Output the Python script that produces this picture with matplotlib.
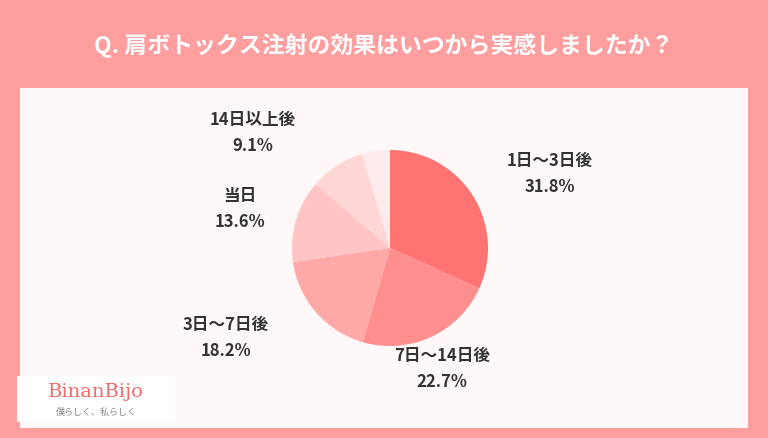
import matplotlib
matplotlib.use("Agg")
import matplotlib.pyplot as plt
from matplotlib.patches import Rectangle

plt.rcParams['font.family'] = ['Noto Sans CJK JP', 'DejaVu Sans']

labels = ["1日〜3日後", "7日〜14日後", "3日〜7日後", "当日", "14日以上後", ""]
values = [31.8, 22.7, 18.2, 13.6, 9.1, 4.6]
pct_text = ["31.8%", "22.7%", "18.2%", "13.6%", "9.1%", ""]
colors = ["#FF7373", "#FF8F8F", "#FFA8A8", "#FFC4C4", "#FFD6D6", "#FFEBEB"]
title = "Q. 肩ボトックス注射の効果はいつから実感しましたか？"

W, H = 768, 438
fig = plt.figure(figsize=(W/100, H/100), dpi=100)
fig.patch.set_facecolor("#FF9E9E")
bg = fig.add_axes([0, 0, 1, 1]); bg.set_xlim(0, W); bg.set_ylim(H, 0); bg.axis("off")
bg.add_patch(Rectangle((20, 88), 728, 340, facecolor="#FFF8F8", edgecolor="none"))
bg.text(W/2, 46, title, color="white", fontsize=16.5, fontweight="bold", ha="center", va="center")
bg.add_patch(Rectangle((17, 376), 158, 46, facecolor="white", edgecolor="none"))
bg.text(96, 392, "BinanBijo", color="#F06A6A", fontsize=14, ha="center", va="center",
        family=["DejaVu Serif"])
bg.text(96, 412, "僕らしく、私らしく", color="#888888", fontsize=6.5, ha="center", va="center")

cx, cy, r = 390, 248, 98
ax = fig.add_axes([(cx-r)/W, 1-(cy+r)/H, 2*r/W, 2*r/H])
ax.pie(values, colors=colors, startangle=90, counterclock=False,
       wedgeprops=dict(linewidth=0))
ax.set_xlim(-1, 1); ax.set_ylim(-1, 1)
ax.set_aspect("equal")

pos = [(550, 174), (442, 369), (226, 338), (240, 209), (253, 133)]
for (x, y), l, p in zip(pos, labels, pct_text):
    bg.text(x, y, l + "\n" + p, fontsize=12, fontweight="bold", color="#333333",
            ha="center", va="center", linespacing=1.6)

fig.savefig("out.png", dpi=100, facecolor=fig.get_facecolor())
